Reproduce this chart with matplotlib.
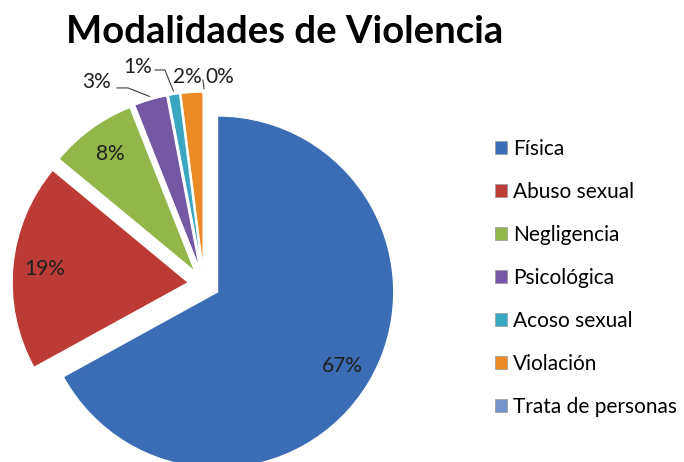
import numpy as np
import matplotlib.pyplot as plt
from matplotlib.patches import Patch

plt.rcParams['font.family'] = ['Lato', 'DejaVu Sans']

# ── Datos ──
categorias = ["Física", "Abuso sexual", "Negligencia", "Psicológica",
              "Acoso sexual", "Violación", "Trata de personas"]
porcentajes = [67, 19, 8, 3, 1, 2, 0]
colores = ["#3A6DB4", "#BC3B35", "#92B64A", "#7558A4",
           "#3AA6C2", "#EC8A25", "#7393C9"]

W, H = 684, 462
fig = plt.figure(figsize=(W / 100, H / 100), dpi=100)

# pie centre / radius in pixels, axes made square around it
cx, cy, R = 204, H - 284, 176
L = 1.3
ax = fig.add_axes([(cx - L * R) / W, (cy - L * R) / H, 2 * L * R / W, 2 * L * R / H])

wedges, _ = ax.pie(porcentajes, colors=colores, startangle=90, counterclock=False,
                   explode=[0.09] * len(porcentajes), radius=1,
                   wedgeprops=dict(edgecolor="white", linewidth=0.8))
ax.set_xlim(-L, L)
ax.set_ylim(-L, L)
ax.axis("off")

# ── Etiquetas internas ──
for w, p in zip(wedges[:3], porcentajes[:3]):
    ang = np.deg2rad((w.theta1 + w.theta2) / 2)
    x0, y0 = w.center
    ax.text(x0 + 0.82 * np.cos(ang), y0 + 0.82 * np.sin(ang), f"{p}%",
            ha="center", va="center", fontsize=15, color="#202020")

# ── Etiquetas externas con líneas guía ──
ext = {3: ((-0.608, 1.148), [(-0.494, 1.114), (-0.432, 1.114)]),
       4: ((-0.375, 1.233), [(-0.278, 1.216), (-0.222, 1.216)]),
       5: ((-0.097, 1.176), None),
       6: ((0.091, 1.176), [(-0.006, 1.159)])}
for i, (pos, guia) in ext.items():
    w = wedges[i]
    ax.text(pos[0], pos[1], f"{porcentajes[i]}%", ha="center", va="center",
            fontsize=15, color="#202020")
    if guia is None:
        continue
    ang = np.deg2rad((w.theta1 + w.theta2) / 2)
    x0, y0 = w.center
    end = (x0 + 1.02 * np.cos(ang), y0 + 1.02 * np.sin(ang))
    pts = guia + [end]
    ax.plot([p[0] for p in pts], [p[1] for p in pts], color="#404040", lw=0.8, clip_on=False)

# ── Título ──
fig.text(285 / W, 1 - 43 / H, "Modalidades de Violencia", ha="center", va="baseline",
         fontsize=27.5, fontweight="bold", color="black")

# ── Leyenda ──
handles = [Patch(facecolor=c, edgecolor="#9a9a9a", linewidth=0.5) for c in colores]
fig.legend(handles, categorias, loc="upper left", bbox_to_anchor=(495 / W, 1 - 139 / H),
           frameon=False, fontsize=15, handlelength=0.58, handleheight=0.58,
           handletextpad=0.3, labelspacing=1.1, borderaxespad=0, borderpad=0)

fig.savefig("out.png", dpi=100)
